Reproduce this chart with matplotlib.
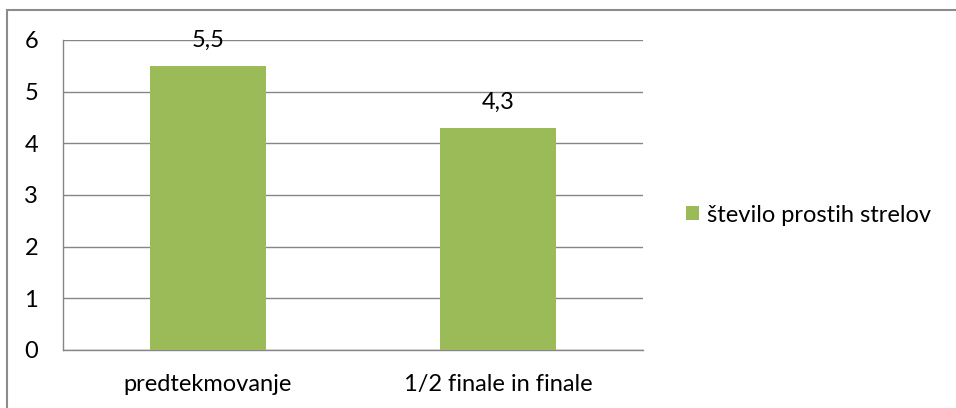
import matplotlib
matplotlib.use("Agg")
import matplotlib.pyplot as plt
from matplotlib.patches import Rectangle

categories = ["predtekmovanje", "1/2 finale in finale"]
values = [5.5, 4.3]
value_labels = ["5,5", "4,3"]
series_name = "število prostih strelov"
yticks = [0, 1, 2, 3, 4, 5, 6]

W, H = 956, 408
fig = plt.figure(figsize=(W / 100, H / 100), dpi=100)
plt.rcParams['font.family'] = ['Lato', 'DejaVu Sans']
FS = 17

# plot area in pixel coordinates
left, right, top, bottom = 63, 643, 40, 350
ax = fig.add_axes([left / W, 1 - bottom / H, (right - left) / W, (bottom - top) / H])

green = "#9BBB59"
x = list(range(len(categories)))
bars = ax.bar(x, values, width=0.4, color=green, label=series_name, zorder=3)
ax.set_xlim(-0.5, len(categories) - 0.5)
ax.set_ylim(0, 6)
ax.set_yticks(yticks)
ax.set_yticklabels([str(t) for t in yticks], fontsize=FS)
ax.set_xticks(x)
ax.set_xticklabels(categories, fontsize=FS)
ax.tick_params(axis='both', length=0, colors="black")
ax.tick_params(axis='y', pad=18)
ax.tick_params(axis='x', pad=17)
ax.grid(axis='y', color="#868686", linewidth=1.0, zorder=0)
for s in ["top", "right"]:
    ax.spines[s].set_visible(False)
for s in ["left", "bottom"]:
    ax.spines[s].set_color("#868686")
    ax.spines[s].set_linewidth(1.0)

for xi, v, lab in zip(x, values, value_labels):
    ax.annotate(lab, (xi, v), xytext=(0, 18.5), textcoords="offset points",
                ha="center", va="center", fontsize=FS)

leg = fig.legend(handles=[bars], labels=[series_name], loc="center left",
                 bbox_to_anchor=(686 / W, 1 - 215 / H), frameon=False,
                 fontsize=FS, handlelength=0.55, handleheight=0.55,
                 handletextpad=0.35, borderpad=0, borderaxespad=0)

# chart frame
fig.patches.append(Rectangle((7 / W, -0.05), 1.2, 1 - 10 / H + 0.05,
                             transform=fig.transFigure, fill=False,
                             edgecolor="#8c8c8c", linewidth=1.5))

fig.savefig("out.png", dpi=100)
